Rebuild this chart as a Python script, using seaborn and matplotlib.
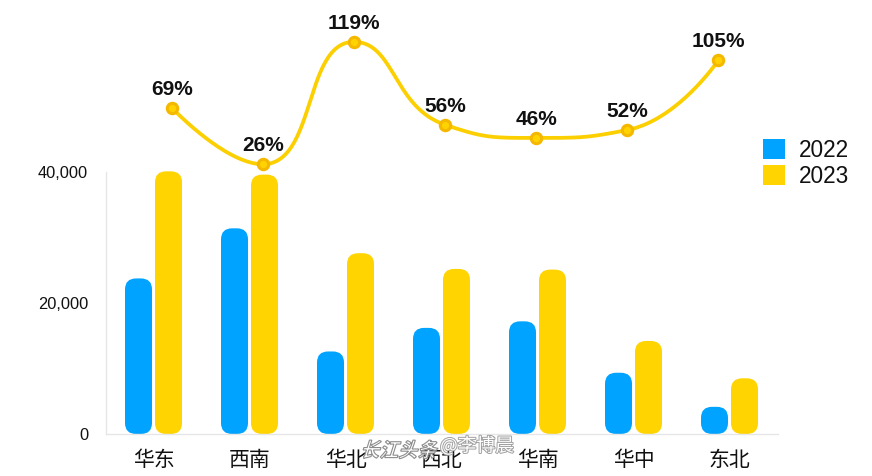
import numpy as np
import pandas as pd
import matplotlib
matplotlib.use("Agg")
import matplotlib.pyplot as plt
import seaborn as sns
from matplotlib.patches import FancyBboxPatch, Patch, PathPatch
from matplotlib.ticker import FuncFormatter
from matplotlib.textpath import TextPath
from matplotlib.font_manager import FontProperties
from matplotlib.transforms import Affine2D, IdentityTransform
import matplotlib.patheffects as pe

# ---- data -------------------------------------------------------------
regions = ["华东", "西南", "华北", "西北", "华南", "华中", "东北"]
years = ["2022", "2023"]
sales_2022 = [23750, 31400, 12600, 16200, 17200, 9350, 4150]
sales_2023 = [40100, 39600, 27600, 25200, 25100, 14200, 8500]
growth_pct = [69, 26, 119, 56, 46, 52, 105]
y_ticks = [0, 20000, 40000]

# ---- style ------------------------------------------------------------
BLUE = "#00A3FF"
YELLOW = "#FFD400"
LINE = "#FCCF00"
MARKER_EDGE = "#F5B800"
TEXT = "#111111"
AXIS = "#E6E6E6"

sns.set_theme(style="white")
plt.rcParams["font.family"] = ["Liberation Sans", "Noto Sans CJK SC", "DejaVu Sans"]

W, H = 872, 476
fig = plt.figure(figsize=(W / 100, H / 100), dpi=100)
fig.patch.set_facecolor("white")

# plot area in pixels
left_px, right_px, zero_px, top_px = 105.5, 777.5, 434, 20
ax = fig.add_axes([left_px / W, (H - zero_px) / H,
                   (right_px - left_px) / W, (zero_px - top_px) / H])

df = pd.DataFrame({
    "region": regions * 2,
    "year": [years[0]] * len(regions) + [years[1]] * len(regions),
    "value": sales_2022 + sales_2023,
})
sns.barplot(data=df, x="region", y="value", hue="year", hue_order=years,
            palette=[BLUE, YELLOW], width=0.625, gap=0.1, saturation=1,
            errorbar=None, legend=False, ax=ax)

ymax = 40000 * (zero_px - top_px) / 262
ax.set_xlim(-0.5, len(regions) - 0.5)
ax.set_ylim(0, ymax)

# swap the plain rectangles for rounded ones
px_per_x = (right_px - left_px) / len(regions)
px_per_y = (zero_px - top_px) / ymax
aspect = (1 / px_per_y) / (1 / px_per_x)
radius = 11 / px_per_x
for bar in list(ax.patches):
    x, y = bar.get_x(), bar.get_y()
    w, h = bar.get_width(), bar.get_height()
    r = min(radius, w / 2, h / aspect / 2)
    rounded = FancyBboxPatch((x, y), w, h,
                             boxstyle=f"round,pad=0,rounding_size={r}",
                             mutation_aspect=aspect,
                             facecolor=bar.get_facecolor(), edgecolor="none",
                             zorder=2)
    bar.remove()
    ax.add_patch(rounded)

ax.set_yticks(y_ticks)
ax.yaxis.set_major_formatter(FuncFormatter(lambda v, _: f"{v:,.0f}"))
ax.set_xlabel("")
ax.set_ylabel("")
ax.tick_params(axis="y", length=0, pad=12.5, labelsize=11.8, labelcolor=TEXT)
ax.tick_params(axis="x", length=0, pad=11, labelsize=15, labelcolor=TEXT)
for lab in ax.get_xticklabels():
    lab.set_fontfamily(["Noto Sans CJK SC"])
for side in ("top", "right"):
    ax.spines[side].set_visible(False)
for side in ("left", "bottom"):
    ax.spines[side].set_color(AXIS)
    ax.spines[side].set_linewidth(1)
ax.spines["left"].set_bounds(0, 40000)
ax.grid(False)

# ---- growth line on its own overlay axes --------------------------------
ax2 = fig.add_axes(ax.get_position())
ax2.patch.set_alpha(0)
ax2.set_axis_off()
ax2.set_xlim(-0.7265, 6.649)
ax2.set_ylim(-178.95, 135.6)

idx = np.arange(len(growth_pct), dtype=float)
vals = np.asarray(growth_pct, dtype=float)


def smooth_path(xs, ys, sx, sy, smooth=0.5, n=60):
    """Bezier smoothing with control points clamped between neighbours."""
    P = np.column_stack([xs * sx, ys * sy])
    m = len(P)
    fwd = [None] * m
    back = [None] * m
    fwd[0] = P[0].copy()
    back[m - 1] = P[m - 1].copy()
    for i in range(1, m - 1):
        p, prv, nxt = P[i], P[i - 1], P[i + 1]
        v = nxt - prv
        lp = np.hypot(*(p - prv))
        ln = np.hypot(*(nxt - p))
        ratio = ln / (ln + lp)
        c1 = p + v * smooth * ratio
        c1 = np.minimum(c1, np.maximum(nxt, p))
        c1 = np.maximum(c1, np.minimum(nxt, p))
        c0 = p - (c1 - p) * lp / ln
        c0 = np.minimum(c0, np.maximum(prv, p))
        c0 = np.maximum(c0, np.minimum(prv, p))
        c1 = p + (p - c0) * ln / lp
        fwd[i], back[i] = c1, c0
    t = np.linspace(0, 1, n)[:, None]
    segs = []
    for i in range(m - 1):
        a, b, c, d = P[i], fwd[i], back[i + 1], P[i + 1]
        seg = ((1 - t) ** 3) * a + 3 * ((1 - t) ** 2) * t * b \
            + 3 * (1 - t) * t ** 2 * c + t ** 3 * d
        segs.append(seg if i == 0 else seg[1:])
    out = np.vstack(segs)
    return out[:, 0] / sx, out[:, 1] / sy


line_px_x = 91.1
line_px_y = 1.316
cx, cy = smooth_path(idx, vals, line_px_x, line_px_y)
ax2.plot(cx, cy, color=LINE, lw=2.7, solid_capstyle="round", zorder=3)
ax2.plot(idx, vals, linestyle="none", marker="o", ms=7.5, mew=2.2,
         mfc="#FFD200", mec=MARKER_EDGE, zorder=4)
for i, p in enumerate(growth_pct):
    ax2.annotate(f"{p}%", (i, p), xytext=(0, 9.2), textcoords="offset points",
                 ha="center", va="baseline", fontsize=15, fontweight="bold",
                 color=TEXT, zorder=5)

# ---- legend -------------------------------------------------------------
handles = [Patch(facecolor=BLUE, edgecolor="none"),
           Patch(facecolor=YELLOW, edgecolor="none")]
ax2.legend(handles, years, loc="upper left",
           bbox_to_anchor=(762.7 / W, 1 - 138.5 / H), bbox_transform=fig.transFigure,
           frameon=False, fontsize=16.3, handlelength=1.0, handleheight=1.0,
           handletextpad=0.6, labelspacing=0.15, borderpad=0, borderaxespad=0,
           labelcolor=TEXT)

# ---- watermark ----------------------------------------------------------
stroke = [pe.withStroke(linewidth=1.4, foreground="#a0a0a0")]
brand = TextPath((0, 0), "长江头条",
                 prop=FontProperties(family="Noto Sans CJK SC", weight="bold"),
                 size=19)
brand_patch = PathPatch(brand, transform=Affine2D().skew_deg(18, 0)
                        .scale(1.0, 1.05).translate(360, H - 457) + IdentityTransform(),
                        facecolor="white", edgecolor="#8c8c8c", lw=0.8,
                        zorder=10)
fig.add_artist(brand_patch)
fig.text(440 / W, 1 - 446 / H, "@李博晨", ha="left", va="center",
         fontsize=13.5, color="white", family=["Noto Sans CJK SC"],
         path_effects=stroke, zorder=10)

fig.savefig("out.png", dpi=100, facecolor="white")
